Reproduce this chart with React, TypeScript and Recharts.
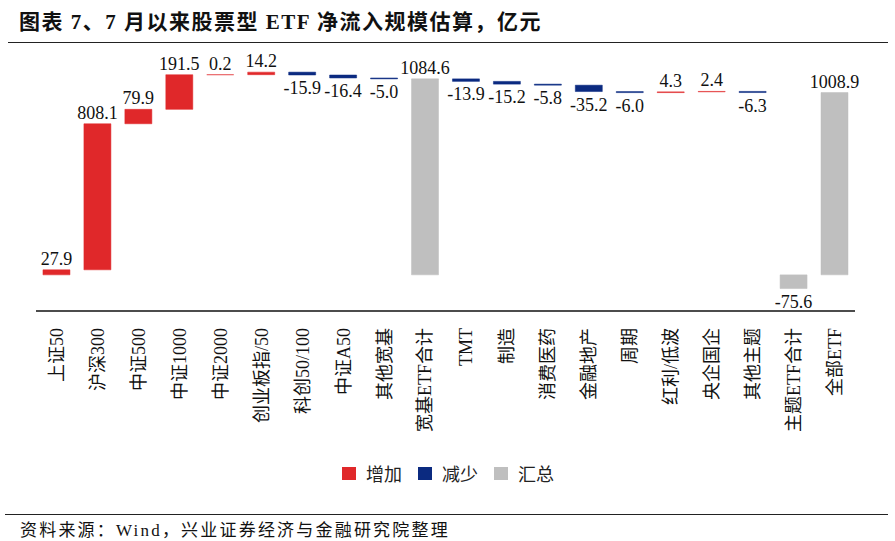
import React from 'react';
import { BarChart, Bar, XAxis, YAxis, Cell, LabelList } from 'recharts';

const categories = [
  '上证50', '沪深300', '中证500', '中证1000', '中证2000', '创业板指/50', '科创50/100', '中证A50', '其他宽基', '宽基ETF合计',
  'TMT', '制造', '消费医药', '金融地产', '周期', '红利/低波', '央企国企', '其他主题', '主题ETF合计', '全部ETF',
];
const flowValues = [
  27.9, 808.1, 79.9, 191.5, 0.2, 14.2, -15.9, -16.4, -5.0, 1084.6,
  -13.9, -15.2, -5.8, -35.2, -6.0, 4.3, 2.4, -6.3, -75.6, 1008.9,
];
const totalFlags = [
  false, false, false, false, false, false, false, false, false, true,
  false, false, false, false, false, false, false, false, true, true,
];
const seriesNames = ['增加', '减少', '汇总'];
const seriesColors = ['#E0282A', '#0B2A80', '#BFBFBF'];

const buildData = () => {
  let running = 0;
  return categories.map((name, i) => {
    const v = flowValues[i];
    if (totalFlags[i]) {
      return { name, range: [Math.min(0, v), Math.max(0, v)], kind: 2 };
    }
    const start = running;
    const end = running + v;
    running = end;
    return { name, range: [Math.min(start, end), Math.max(start, end)], kind: v >= 0 ? 0 : 1 };
  });
};
const data = buildData();

const LABEL_FONT = "'Liberation Serif', 'Noto Sans CJK SC', serif";

const renderLabel = (props: any) => {
  const { x, y, width, height, index } = props;
  const v = flowValues[index];
  const top = Math.min(y, y + height);
  const bottom = Math.max(y, y + height);
  const ty = v < 0 ? bottom + 19 : top - 5;
  return (
    <text x={x + width / 2} y={ty} textAnchor="middle" fontSize={18} fontFamily={LABEL_FONT} fill="#111">
      {v.toFixed(1)}
    </text>
  );
};

const Tick = (props: any) => {
  const { x, y, payload } = props;
  const ty = y + 9;
  return (
    <text
      x={x}
      y={ty}
      transform={`rotate(-90, ${x}, ${ty})`}
      textAnchor="end"
      dy="0.36em"
      fontSize={18}
      fontFamily={LABEL_FONT}
      fill="#111"
    >
      {payload.value}
    </text>
  );
};

export default function App() {
  return (
    <div style={{ position: 'absolute', left: 0, top: 0, width: 895, height: 541, background: '#fff', overflow: 'hidden' }}>
      <div
        style={{
          position: 'absolute', left: 19, top: 5, fontSize: 21, fontWeight: 700, letterSpacing: 1.5,
          fontFamily: "'Liberation Serif', 'Noto Sans CJK SC', serif", color: '#111', whiteSpace: 'nowrap',
        }}
      >
        图表 7、7 月以来股票型 ETF 净流入规模估算，亿元
      </div>
      <div style={{ position: 'absolute', left: 8, top: 42, width: 880, height: 1, background: '#222' }} />
      <div style={{ position: 'absolute', left: 0, top: 0 }}>
        <BarChart
          width={895}
          height={541}
          data={data}
          margin={{ top: 58, right: 40, left: 36, bottom: 0 }}
          barCategoryGap="17%"
        >
          <XAxis
            dataKey="name"
            interval={0}
            height={230}
            tickLine={false}
            axisLine={{ stroke: '#111', strokeWidth: 1.5 }}
            tick={<Tick />}
          />
          <YAxis hide domain={[-200, 1200]} />
          <Bar dataKey="range" isAnimationActive={false} strokeWidth={0.5}>
            {data.map((d, i) => (
              <Cell key={i} fill={seriesColors[d.kind]} stroke={seriesColors[d.kind]} />
            ))}
            <LabelList dataKey="range" content={renderLabel} />
          </Bar>
        </BarChart>
      </div>
      <div
        style={{
          position: 'absolute', left: 342, top: 461, display: 'flex', alignItems: 'center',
          fontFamily: "'Noto Sans CJK SC', sans-serif", fontSize: 18, color: '#222',
        }}
      >
        {seriesNames.map((n, i) => (
          <div key={n} style={{ display: 'flex', alignItems: 'center', marginRight: 16 }}>
            <div style={{ width: 14, height: 13, background: seriesColors[i], marginRight: 10 }} />
            <span style={{ lineHeight: '24px' }}>{n}</span>
          </div>
        ))}
      </div>
      <div style={{ position: 'absolute', left: 5, top: 514, width: 883, height: 1, background: '#222' }} />
      <div
        style={{
          position: 'absolute', left: 20, top: 516, fontSize: 17, letterSpacing: 2.2,
          fontFamily: "'Liberation Serif', 'Noto Sans CJK SC', serif", color: '#111', whiteSpace: 'nowrap',
        }}
      >
        资料来源：Wind，兴业证券经济与金融研究院整理
      </div>
    </div>
  );
}
